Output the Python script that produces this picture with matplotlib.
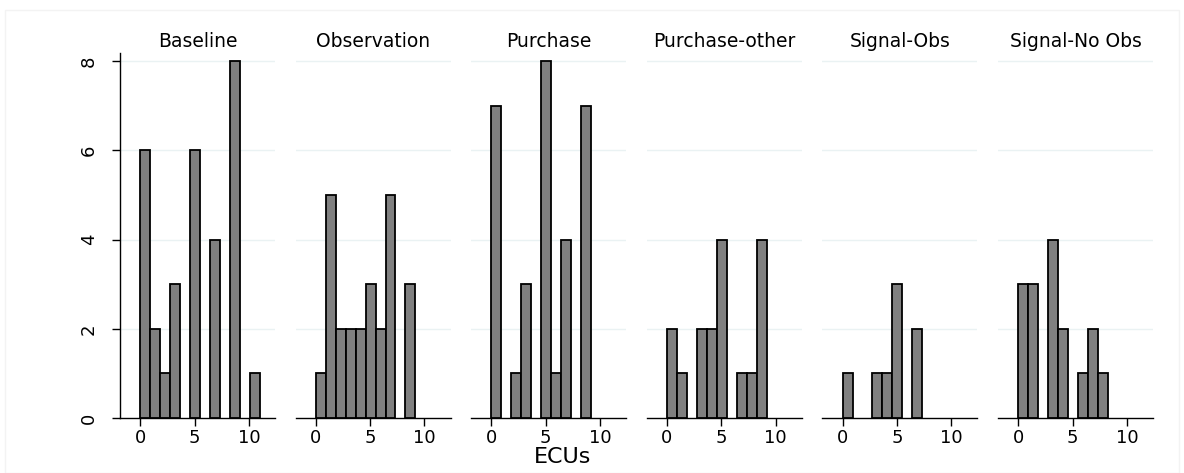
import matplotlib.pyplot as plt
import numpy as np

plt.rcParams['font.family'] = ['DejaVu Sans']

groups = ['Baseline', 'Observation', 'Purchase', 'Purchase-other', 'Signal-Obs', 'Signal-No Obs']

# counts per bin, 12 bins of equal width spanning 0..11 ECUs
baseline = [6, 2, 1, 3, 0, 6, 0, 4, 0, 8, 0, 1]
observation = [1, 5, 2, 2, 2, 3, 2, 5, 0, 3, 0, 0]
purchase = [7, 0, 1, 3, 0, 8, 1, 4, 0, 7, 0, 0]
purchase_other = [2, 1, 0, 2, 2, 4, 0, 1, 1, 4, 0, 0]
signal_obs = [1, 0, 0, 1, 1, 3, 0, 2, 0, 0, 0, 0]
signal_noobs = [3, 3, 0, 4, 2, 0, 1, 2, 1, 0, 0, 0]
counts = [baseline, observation, purchase, purchase_other, signal_obs, signal_noobs]

bin_edges = np.linspace(0, 11, 13)
yticks = [0, 2, 4, 6, 8]
xticks = [0, 5, 10]

fig, axes = plt.subplots(1, 6, figsize=(11.84, 4.73), dpi=100, sharey=True)
fig.subplots_adjust(left=120/1184, right=1153/1184, bottom=1-418/473, top=1-53/473, wspace=0.133)

width = bin_edges[1] - bin_edges[0]
for i, (ax, name, c) in enumerate(zip(axes, groups, counts)):
    c = np.asarray(c)
    keep = c > 0
    ax.bar(bin_edges[:-1][keep], c[keep], width=width, align='edge', color='#808080',
           edgecolor='black', linewidth=1.3, zorder=3)
    ax.set_xlim(-1.85, 12.4)
    ax.set_ylim(0, 8.18)
    ax.set_xticks(xticks)
    ax.set_yticks(yticks)
    for y in yticks[1:]:
        ax.axhline(y, color='#eaf2f3', linewidth=1, zorder=1)
    ax.set_title(name, fontsize=13.5, pad=4)
    for s in ['top', 'right']:
        ax.spines[s].set_visible(False)
    ax.spines['bottom'].set_linewidth(1)
    ax.tick_params(axis='x', length=6, width=1, labelsize=13, pad=2)
    if i == 0:
        ax.spines['left'].set_linewidth(1)
        ax.tick_params(axis='y', length=6, width=1, labelsize=13, pad=10,
                       labelrotation=90)
        for lab in ax.get_yticklabels():
            lab.set_verticalalignment('center')
    else:
        ax.spines['left'].set_visible(False)
        ax.tick_params(axis='y', left=False, labelleft=False)

fig.text(563/1184, 1-457/473, 'ECUs', ha='center', va='center', fontsize=16)
fig.patches.append(plt.Rectangle((5/1184, 0), 1-10/1184, 1-10/473, transform=fig.transFigure,
                                 fill=False, edgecolor='#f3f3f3', linewidth=1))

fig.savefig('out.png', dpi=100)
